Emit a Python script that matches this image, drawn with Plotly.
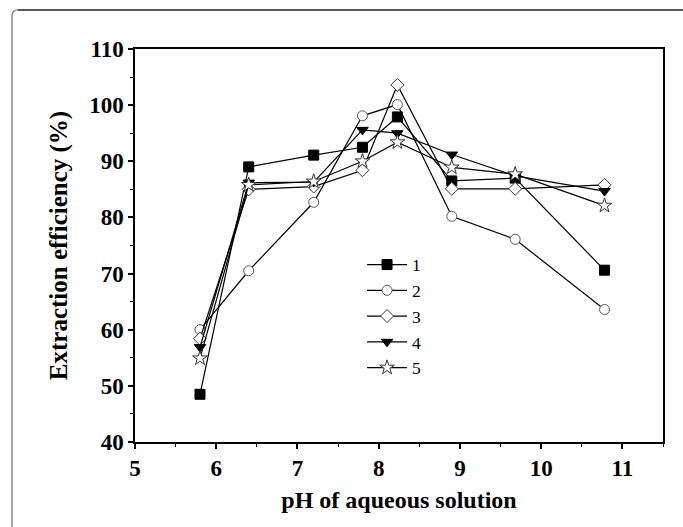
import plotly.graph_objects as go

ph = [5.8, 6.4, 7.2, 7.8, 8.23, 8.9, 9.68, 10.78]
series_names = ["1", "2", "3", "4", "5"]
s1 = [48.5, 89.0, 91.1, 92.5, 97.9, 86.5, 87.0, 70.6]
s2 = [60.0, 70.5, 82.7, 98.1, 100.1, 80.2, 76.1, 63.6]
s3 = [58.4, 85.0, 85.5, 88.4, 103.6, 85.1, 85.1, 85.8]
s4 = [56.9, 86.2, 86.3, 95.6, 95.0, 91.2, 87.4, 84.7]
s5 = [54.9, 85.8, 86.4, 90.0, 93.4, 88.9, 87.7, 82.1]
x_ticks = [5, 6, 7, 8, 9, 10, 11]
y_ticks = [40, 50, 60, 70, 80, 90, 100, 110]

symbols = ["square", "circle", "diamond", "triangle-down", "star"]
fills = ["black", "white", "white", "black", "white"]
outlines = ["black", "#555555", "#333333", "black", "#333333"]
values = [s1, s2, s3, s4, s5]

FONT = "Liberation Serif"

fig = go.Figure()
for name, ys, sym, fc, oc in zip(series_names, values, symbols, fills, outlines):
    fig.add_trace(go.Scatter(
        x=ph, y=ys, name=name, mode="lines+markers",
        line=dict(color="black", width=1.2),
        marker=dict(symbol=sym, size=10 if sym != "star" else 11, color=fc,
                    line=dict(color=oc, width=1)),
        legendgroup=name,
    ))

W, H = 683, 527
L, R, T, B = 135, 20, 49, 85
pw, ph_ = W - L - R, H - T - B

def px(xp):
    return (xp - L) / pw

def py(yp):
    return (H - B - yp) / ph_

x0, y0, r = 12, 10, 6
frame_left = (f"M {px(x0)},{py(540)} L {px(x0)},{py(y0 + r)} "
              f"Q {px(x0)},{py(y0)} {px(x0 + r)},{py(y0)}")
frame_top = f"M {px(x0 + r)},{py(y0)} L {px(700)},{py(y0)}"

axis_common = dict(
    showline=True, linecolor="black", linewidth=1.5, mirror=True,
    ticks="outside", ticklen=5, tickwidth=1.5, tickcolor="black",
    showgrid=False, zeroline=False,
    tickfont=dict(family=FONT, size=23, color="black", weight="bold"),
)

fig.update_layout(
    width=W, height=H,
    margin=dict(l=L, r=R, t=T, b=B),
    paper_bgcolor="white", plot_bgcolor="white",
    xaxis=dict(range=[5, 11.5], tickvals=x_ticks,
               minor=dict(dtick=0.5, ticks="outside", ticklen=3, tickwidth=1.2, tickcolor="black"),
               title=dict(text="pH of aqueous solution", standoff=11,
                          font=dict(family=FONT, size=24, color="black", weight="bold")),
               **axis_common),
    yaxis=dict(range=[40, 110], tickvals=y_ticks,
               minor=dict(dtick=5, ticks="outside", ticklen=3, tickwidth=1.2, tickcolor="black"),
               title=dict(text="Extraction efficiency (%)", standoff=14,
                          font=dict(family=FONT, size=25, color="black", weight="bold")),
               **axis_common),
    legend=dict(x=0.43, y=0.497, xanchor="left", yanchor="top",
                bgcolor="rgba(0,0,0,0)", font=dict(family=FONT, size=17.5, color="black"),
                tracegroupgap=0, itemwidth=40),
    shapes=[
        dict(type="path", path=frame_left, xref="paper", yref="paper",
             line=dict(color="#888888", width=1.5)),
        dict(type="path", path=frame_top, xref="paper", yref="paper",
             line=dict(color="#222222", width=1.5)),
    ],
)

fig.write_html("out.html")
